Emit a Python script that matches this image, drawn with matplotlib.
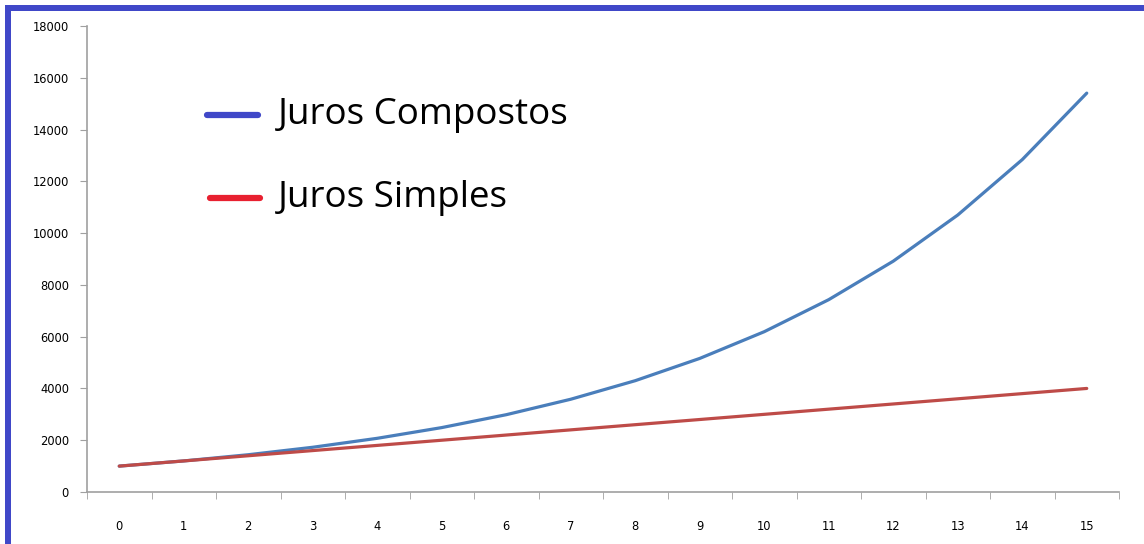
import matplotlib.pyplot as plt
from matplotlib.patches import Rectangle

# periods and balances
periodos = [0, 1, 2, 3, 4, 5, 6, 7, 8, 9, 10, 11, 12, 13, 14, 15]
compostos = [1000, 1200, 1440, 1728, 2074, 2488, 2986, 3583, 4300, 5160,
             6192, 7430, 8916, 10699, 12839, 15407]
simples = [1000, 1200, 1400, 1600, 1800, 2000, 2200, 2400, 2600, 2800,
           3000, 3200, 3400, 3600, 3800, 4000]
y_ticks = [0, 2000, 4000, 6000, 8000, 10000, 12000, 14000, 16000, 18000]

W, H = 1144, 544
fig = plt.figure(figsize=(W / 100, H / 100), dpi=100)
ax = fig.add_axes([87 / W, 1 - 492 / H, 1032 / W, 466 / H])

ax.plot(periodos, compostos, color='#4a7ebb', lw=2.3, solid_capstyle='round')
ax.plot(periodos, simples, color='#be4b48', lw=2.3, solid_capstyle='round')

ax.set_xlim(-0.5, 15.5)
ax.set_ylim(0, 18000)
ax.set_yticks(y_ticks)
ax.set_xticks(periodos)
ax.set_xticks([p - 0.5 for p in periodos] + [15.5], minor=True)
ax.tick_params(axis='x', which='major', length=0, pad=20, labelsize=8.3)
ax.tick_params(axis='x', which='minor', length=5, color='#a0a0a0')
ax.tick_params(axis='y', length=5, color='#a0a0a0', labelsize=8.3, pad=8)
for s in ['top', 'right']:
    ax.spines[s].set_visible(False)
for s in ['left', 'bottom']:
    ax.spines[s].set_color('#a0a0a0')
    ax.spines[s].set_linewidth(1.2)

# legend drawn by hand
ax.plot([0.116, 0.166], [0.809, 0.809], transform=ax.transAxes,
        color='#4048c8', lw=4.5, solid_capstyle='round')
ax.plot([0.119, 0.168], [0.631, 0.631], transform=ax.transAxes,
        color='#e82030', lw=4.5, solid_capstyle='round')
ax.text(0.185, 0.809, 'Juros Compostos', transform=ax.transAxes,
        va='center', ha='left', fontsize=26.5, family='Open Sans')
ax.text(0.185, 0.631, 'Juros Simples', transform=ax.transAxes,
        va='center', ha='left', fontsize=26.5, family='Open Sans')

# blue frame on the left and top
fig.add_artist(Rectangle((5 / W, 0), 6 / W, 1 - 5 / H, transform=fig.transFigure,
                         color='#4048c8', lw=0))
fig.add_artist(Rectangle((5 / W, 1 - 11 / H), 1 - 5 / W, 6 / H,
                         transform=fig.transFigure, color='#4048c8', lw=0))

fig.savefig('out.png', dpi=100)
